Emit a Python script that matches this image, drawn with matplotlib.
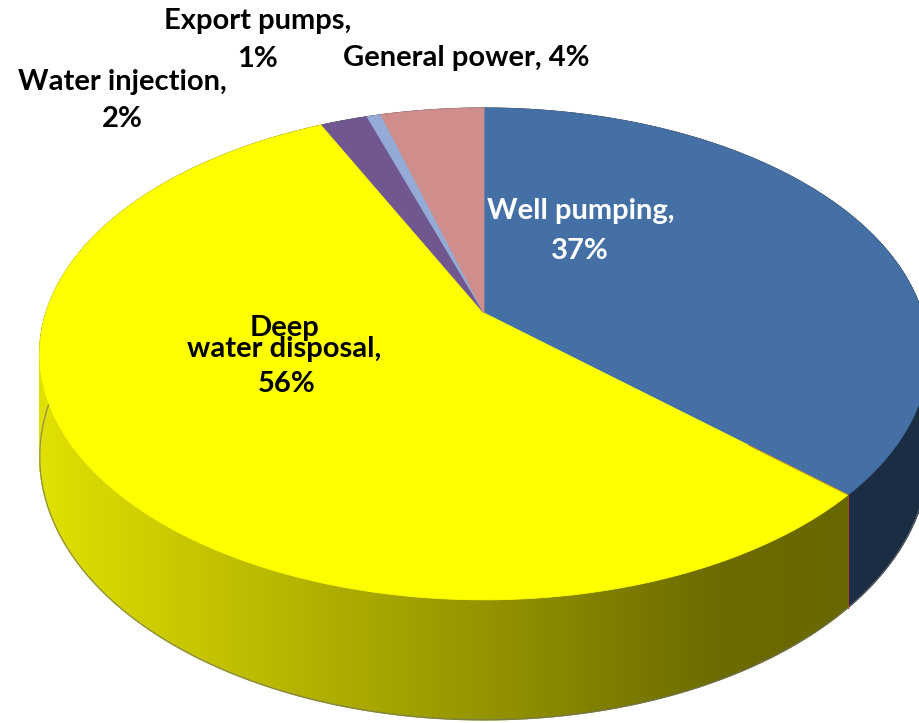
import numpy as np
import matplotlib
matplotlib.use('Agg')
import matplotlib.pyplot as plt
from matplotlib.collections import PolyCollection
from matplotlib.colors import to_rgb

# ---- data (clockwise from 12 o'clock) ----
categories = ["Well pumping", "Deep water disposal", "Water injection", "Export pumps", "General power"]
values = [36.8, 56.2, 2.0, 0.6, 4.4]
colors = ["#4470a5", "#ffff00", "#70578f", "#94abd5", "#cf8d8c"]
pct = [int(round(v / sum(values) * 100)) for v in values]

W, H = 919, 723
fig = plt.figure(figsize=(W / 100, H / 100), dpi=100)
ax = fig.add_axes([0, 0, 1, 1])
ax.set_xlim(0, W)
ax.set_ylim(H, 0)
ax.axis('off')

# perspective pie geometry (pixel space)
CX, CY, A, C, K, DEPTH = 484, 313, 438, 239, 0.1667, 100


def proj(theta, r=1.0, bottom=False):
    x = r * np.sin(theta)
    z = -r * np.cos(theta)
    w = 1 - K * z
    xs = CX + A * x / w
    ys = CY + C * z / w
    if bottom:
        ys = ys + DEPTH / w
    return xs, ys


fracs = np.array(values) / sum(values)
edges = np.concatenate([[0], np.cumsum(fracs)]) * 2 * np.pi


def shade(x):
    return np.interp(x, [40, 720, 919], [0.88, 0.42, 0.40])


# ---- side walls ----
polys, fcs, depths = [], [], []
for i, (a0, a1) in enumerate(zip(edges[:-1], edges[1:])):
    n = max(2, int(np.ceil((a1 - a0) / np.radians(0.4))))
    t = np.linspace(a0, a1, n + 1)
    base = np.array(to_rgb(colors[i]))
    for j in range(n):
        ta, tb = t[j], t[j + 1]
        xa, ya = proj(ta)
        xb, yb = proj(tb)
        xa2, ya2 = proj(ta, bottom=True)
        xb2, yb2 = proj(tb, bottom=True)
        polys.append([(xa, ya), (xb, yb), (xb2, yb2), (xa2, ya2)])
        fcs.append(tuple(np.clip(base * shade((xa + xb) / 2), 0, 1)))
        depths.append(-np.cos((ta + tb) / 2))
order = np.argsort(depths)
side = PolyCollection([polys[o] for o in order], facecolors=[fcs[o] for o in order],
                      edgecolors=[fcs[o] for o in order], linewidths=1.0, zorder=1)
ax.add_collection(side)

# silhouette outline (bottom front arc and back top arc)
tt = np.linspace(np.radians(80), np.radians(280), 400)
bx, by = proj(tt, bottom=True)
ax.plot(bx, by, color='#707070', lw=0.9, alpha=0.7, zorder=1.5)
tt2 = np.linspace(np.radians(-100), np.radians(100), 400)
tx, ty = proj(tt2)
ax.plot(tx, ty, color='#707070', lw=0.9, alpha=0.6, zorder=1.5)

# ---- top faces ----
for i, (a0, a1) in enumerate(zip(edges[:-1], edges[1:])):
    n = max(3, int(np.ceil((a1 - a0) / np.radians(0.4))))
    t = np.linspace(a0, a1, n + 1)
    xs, ys = proj(t)
    px = np.concatenate([[CX], xs])
    py = np.concatenate([[CY], ys])
    ax.fill(px, py, facecolor=colors[i], edgecolor=colors[i], lw=0.6, zorder=2)

# thin red boundary line between first two slices
tb = edges[1]
x0, y0 = proj(tb)
x1, y1 = proj(tb, bottom=True)
ax.plot([x0, x1], [y0, y1], color='#a8442a', lw=0.8, zorder=3)
rr = np.array([0.75, 1.0])
xr, yr = proj(np.full(2, tb), r=rr)
ax.plot(xr, yr, color='#a8442a', lw=0.6, alpha=0.7, zorder=3)

# ---- labels ----
fp = dict(family=['Lato', 'DejaVu Sans'], weight='bold', fontsize=21, ha='center', va='baseline', zorder=5)
ax.text(258, 29, f"{categories[3]},", color='black', **fp)
ax.text(258, 67, f"{pct[3]}%", color='black', **fp)
ax.text(466, 66, f"{categories[4]}, {pct[4]}%", color='black', **fp)
ax.text(122, 90, f"{categories[2]},", color='black', **fp)
ax.text(122, 127, f"{pct[2]}%", color='black', **fp)
ax.text(581, 219, f"{categories[0]},", color='white', **fp)
ax.text(580, 259, f"{pct[0]}%", color='white', **fp)
deep_words = categories[1].split(' ', 1)
ax.text(285, 336, deep_words[0], color='black', **fp)
ax.text(284, 357, f"{deep_words[1]},", color='black', **fp)
ax.text(287, 392, f"{pct[1]}%", color='black', **fp)

fig.savefig('out.png', dpi=100)
